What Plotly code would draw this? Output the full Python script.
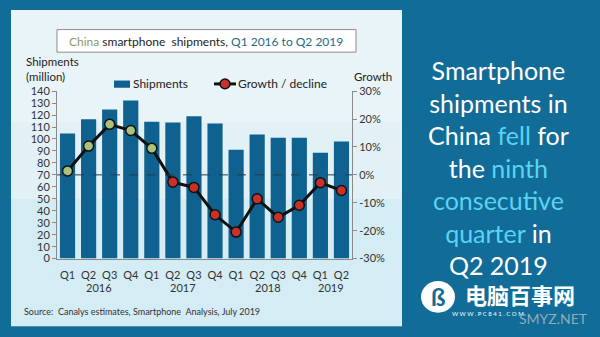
import plotly.graph_objects as go

quarters = ["Q1", "Q2", "Q3", "Q4", "Q1", "Q2", "Q3", "Q4", "Q1", "Q2", "Q3", "Q4", "Q1", "Q2"]
years = ["2016", "2017", "2018", "2019"]
year_centers = [1.5, 5.5, 9.5, 12.5]
shipments = [104.5, 116.5, 124.6, 132.2, 114.5, 113.7, 119.0, 112.9, 90.9, 103.8, 101.0, 101.0, 88.5, 97.9]
growth = [1.4, 10.3, 18.1, 15.9, 9.5, -2.6, -4.5, -14.3, -20.5, -8.6, -15.2, -10.9, -2.8, -5.6]
left_ticks = list(range(0, 141, 10))
right_ticks = [-30, -20, -10, 0, 10, 20, 30]
series_names = ["Shipments", "Growth / decline"]

W, H = 600, 337
FONT = "Lato"
BAR = "#0f6290"
PANEL = "#116c97"
CYAN = "#5ad3f2"
GREEN = "#a9c27a"
RED = "#c8312a"


def px(x):
    return x / W


def py(y):
    return 1 - y / H


idx = list(range(len(quarters)))
marker_colors = [GREEN if g >= 0 else RED for g in growth]

fig = go.Figure()
fig.add_trace(go.Bar(
    x=idx, y=shipments, name=series_names[0], marker_color=BAR,
    marker_line_width=0, yaxis="y", showlegend=False,
))
fig.add_trace(go.Scatter(
    x=idx, y=growth, name=series_names[1], yaxis="y2", mode="lines+markers",
    line=dict(color="#111111", width=3), showlegend=False,
    marker=dict(size=10, color=marker_colors, line=dict(color="#111111", width=1.5)),
))

x0, x1 = 57, 352
y0, y1 = 87.5, 261.7

fig.update_layout(
    width=W, height=H,
    margin=dict(l=0, r=0, t=0, b=0),
    paper_bgcolor=PANEL,
    plot_bgcolor="rgba(0,0,0,0)",
    font=dict(family=FONT, size=11, color="#333333"),
    bargap=0.28,
    showlegend=False,
    xaxis=dict(
        domain=[px(x0), px(x1)], range=[-0.5, len(quarters) - 0.5],
        tickmode="array", tickvals=idx, ticktext=quarters,
        showgrid=False, zeroline=False, showline=True, linecolor="#8a8a8a", linewidth=1,
        ticks="", tickfont=dict(size=11, color="#333333"), ticklabelstandoff=6,
    ),
    yaxis=dict(
        domain=[py(y1), py(y0)], range=[0, 140],
        tickmode="array", tickvals=left_ticks,
        showgrid=False, zeroline=False, showline=True, linecolor="#8a8a8a", linewidth=1,
        ticks="outside", ticklen=4, tickcolor="#8a8a8a",
        tickfont=dict(size=11, color="#333333"),
    ),
    yaxis2=dict(
        overlaying="y", side="right", range=[-30, 30],
        tickmode="array", tickvals=right_ticks, ticktext=[f"{v}%" for v in right_ticks],
        showgrid=False, zeroline=False, showline=True, linecolor="#8a8a8a", linewidth=1,
        ticks="outside", ticklen=4, tickcolor="#8a8a8a",
        tickfont=dict(size=11, color="#333333"),
    ),
)

shapes = [
    # light chart panel
    dict(type="rect", xref="paper", yref="paper", x0=px(11), x1=px(402), y0=py(332), y1=py(3),
         fillcolor="#e1f1f6", line=dict(width=0), layer="below"),
    dict(type="rect", xref="paper", yref="paper", x0=px(11), x1=px(402), y0=py(332), y1=py(200),
         fillcolor="rgba(175,222,234,0.25)", line=dict(width=0), layer="below"),
    dict(type="rect", xref="paper", yref="paper", x0=px(11), x1=px(402), y0=py(120), y1=py(3),
         fillcolor="rgba(255,255,255,0.25)", line=dict(width=0), layer="below"),
    # title box
    dict(type="rect", xref="paper", yref="paper", x0=px(57), x1=px(356), y0=py(47), y1=py(23.5),
         fillcolor="white", line=dict(color="#8c8c8c", width=1), layer="below"),
    # zero line
    dict(type="line", xref="x domain", yref="y2", x0=0, x1=1, y0=0, y1=0,
         line=dict(color="#2b3a44", width=1, dash="dash")),
    # legend: shipments swatch
    dict(type="rect", xref="paper", yref="paper", x0=px(114), x1=px(130), y0=py(84), y1=py(76.5),
         fillcolor=BAR, line=dict(width=0)),
    # legend: growth line + marker
    dict(type="line", xref="paper", yref="paper", x0=px(214), x1=px(236), y0=py(80), y1=py(80),
         line=dict(color="#111111", width=3)),
    dict(type="circle", xref="paper", yref="paper", x0=px(220), x1=px(230), y0=py(85), y1=py(75),
         fillcolor=RED, line=dict(color="#111111", width=1.5)),
    # watermark logo disc
    dict(type="circle", xref="paper", yref="paper", x0=px(421), x1=px(455), y0=py(318), y1=py(285),
         fillcolor="white", line=dict(width=0)),
]
fig.update_layout(shapes=shapes)

ann = []
ann.append(dict(
    xref="paper", yref="paper", x=px(206), y=py(35.5), xanchor="center", yanchor="middle",
    showarrow=False, font=dict(family=FONT, size=12, color="#222222"),
    text="<span style='color:#8a9a6c'>China</span> smartphone  shipments, "
         "<span style='color:#1e6a8a'>Q1 2016 to Q2 2019</span>",
))
ann.append(dict(
    xref="paper", yref="paper", x=px(131), y=py(80), xanchor="left", yanchor="middle",
    showarrow=False, font=dict(family=FONT, size=12, color="#222222"), text=series_names[0],
))
ann.append(dict(
    xref="paper", yref="paper", x=px(236), y=py(80), xanchor="left", yanchor="middle",
    showarrow=False, font=dict(family=FONT, size=12, color="#222222"), text=series_names[1],
))
ann.append(dict(
    xref="paper", yref="paper", x=px(24), y=py(64.5), xanchor="left", yanchor="middle",
    showarrow=False, align="left", font=dict(family=FONT, size=11.5, color="#222222"),
    text="Shipments<br>(million)",
))
ann.append(dict(
    xref="paper", yref="paper", x=px(373), y=py(72), xanchor="center", yanchor="middle",
    showarrow=False, font=dict(family=FONT, size=11.5, color="#222222"),
    text="Growth",
))
for yr, c in zip(years, year_centers):
    ann.append(dict(
        xref="x", yref="paper", x=c, y=py(292), xanchor="center", yanchor="middle",
        showarrow=False, font=dict(family=FONT, size=11, color="#333333"), text=yr,
    ))
ann.append(dict(
    xref="paper", yref="paper", x=px(22), y=py(317), xanchor="left", yanchor="middle",
    showarrow=False, font=dict(family=FONT, size=9, color="#333333"),
    text="Source:  Canalys estimates, Smartphone  Analysis, July 2019",
))
ann.append(dict(
    xref="paper", yref="paper", x=px(498), y=py(167), xanchor="center", yanchor="middle",
    showarrow=False, align="center", font=dict(family=FONT, size=25, color="white"),
    text=("Smartphone<br>shipments in<br>China <span style='color:%s'>fell</span> for<br>"
          "the <span style='color:%s'>ninth</span><br><span style='color:%s'>consecutive</span><br>"
          "<span style='color:%s'>quarter</span> in<br>Q2 2019") % (CYAN, CYAN, CYAN, CYAN),
))
# watermark
ann.append(dict(
    xref="paper", yref="paper", x=px(438), y=py(301), xanchor="center", yanchor="middle",
    showarrow=False, font=dict(family=FONT, size=24, color=PANEL),
    text="<b>ß</b>",
))
ann.append(dict(
    xref="paper", yref="paper", x=px(520), y=py(299), xanchor="center", yanchor="middle",
    showarrow=False, font=dict(family="Noto Sans CJK SC", size=22, color="white"),
    text="<b>电脑百事网</b>",
))
ann.append(dict(
    xref="paper", yref="paper", x=px(488), y=py(319), xanchor="center", yanchor="middle",
    showarrow=False, font=dict(family=FONT, size=6, color="white"),
    text="W W W . P C 8 4 1 . C O M",
))
ann.append(dict(
    xref="paper", yref="paper", x=px(553), y=py(324), xanchor="center", yanchor="middle",
    showarrow=False, font=dict(family=FONT, size=14, color="rgba(170,185,195,0.85)"),
    text="SMYZ.NET",
))
fig.update_layout(annotations=ann)

fig.write_html("out.html")
